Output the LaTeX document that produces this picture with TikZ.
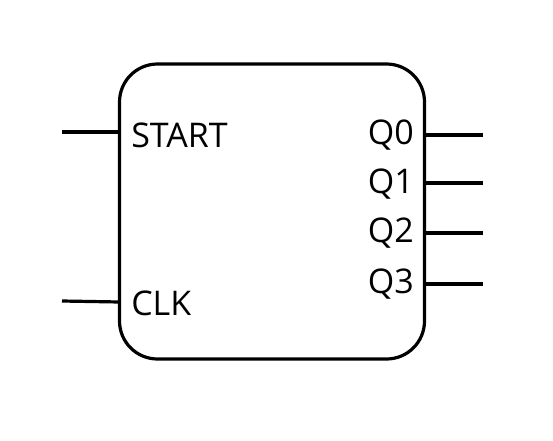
\documentclass[tikz,border=0pt]{standalone}
\usepackage{fontspec}
\setmainfont{Open Sans}
\usetikzlibrary{positioning, calc}

\begin{document}
\begin{tikzpicture}[
  x=0.75pt, y=-0.75pt,
  % === STILE ===
  % Baustein (Zaehler)
  block/.style={
    draw=black,
    fill=white,
    line width=2.4pt,
    rounded corners=28.5pt,
    minimum width=228.75pt,
    minimum height=221.25pt,
    inner sep=0pt,
    outer sep=0pt
  },
  % Pin-Beschriftung
  pinlbl/.style={
    font=\fontsize{25.5}{30}\selectfont,
    inner sep=0pt
  },
  % Leitungen
  wire/.style={
    draw=black,
    line width=2.4pt
  }
]

% =============================================================================
% HINTERGRUND
% =============================================================================
\useasboundingbox (0,0) rectangle (553,440);

% =============================================================================
% BAUSTEIN
% =============================================================================
\node[block] (cnt) at (272,211.5) {};

% --- Eingaenge ---
\node[pinlbl, anchor=base west] (start) at (131,147) {START};
\node[pinlbl, anchor=base west] (clk) at (131,315) {CLK};

% --- Ausgaenge ---
\foreach \i/\yb in {0/144, 1/193, 2/242, 3/293} {
  \node[pinlbl, anchor=base east] (q\i) at (414,\yb) {Q\i};
}

% =============================================================================
% LEITUNGEN
% =============================================================================
\coordinate (startin) at (62,132);
\coordinate (clkin) at (62,301);
\coordinate (clkpin) at (120,302);
\draw[wire] (startin) -- (cnt.west |- startin);
\draw[wire] (clkin) -- (clkpin);

\foreach \i/\y in {0/135, 1/183, 2/233, 3/284} {
  \coordinate (q\i out) at (483,\y);
  \draw[wire] (cnt.east |- q\i out) -- (q\i out);
}

\end{tikzpicture}
\end{document}
